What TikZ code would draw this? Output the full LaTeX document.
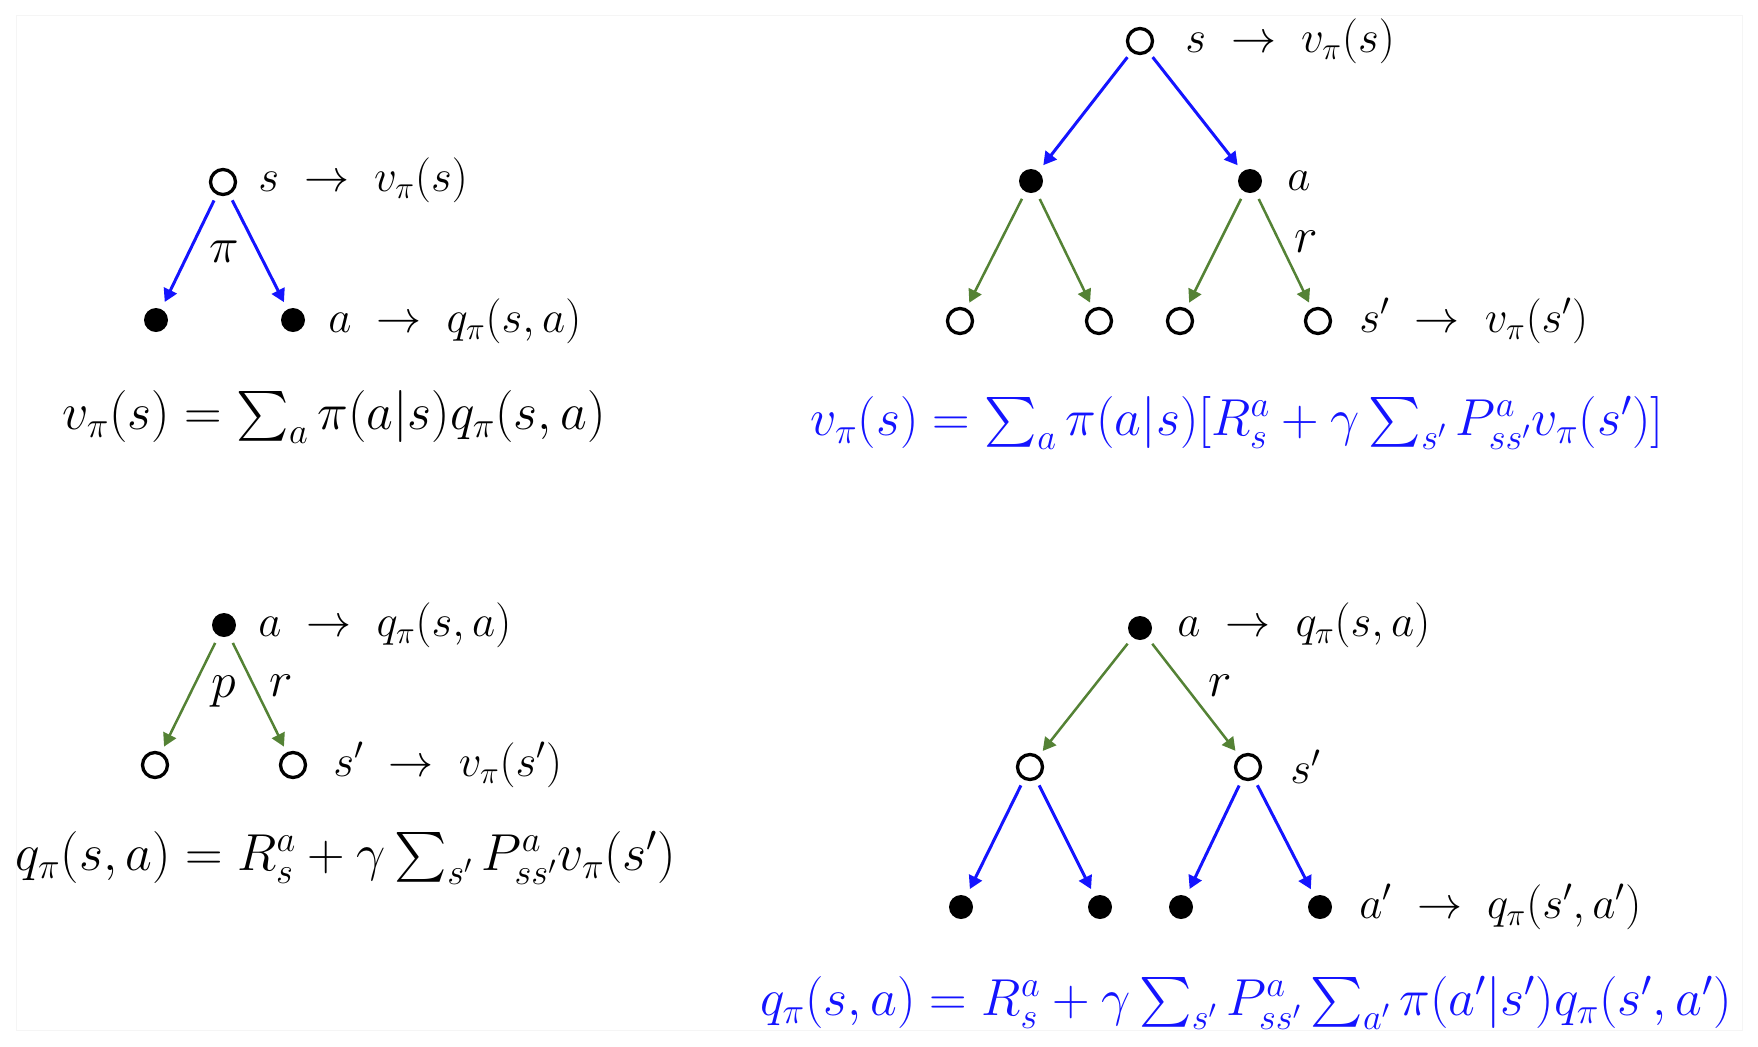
\RequirePackage{fix-cm}
\documentclass[tikz,border=0pt]{standalone}
\usepackage{exscale}
\usetikzlibrary{arrows.meta}
\definecolor{arrblue}{RGB}{20,20,255}
\definecolor{arrgreen}{RGB}{84,130,53}
\definecolor{eqblue}{RGB}{20,20,255}
\begin{document}
\begin{tikzpicture}[x=0.5pt,y=-0.5pt,
  opn/.style={circle,draw,line width=1.65pt,minimum size=12.5pt,inner sep=0pt,outer sep=4pt,fill=white},
  fld/.style={circle,fill=black,minimum size=12pt,inner sep=0pt,outer sep=4pt},
  lbl/.style={inner sep=0pt,anchor=west,font=\fontsize{22.5}{26}\selectfont},
  sym/.style={inner sep=0pt,anchor=center,font=\fontsize{25}{29}\selectfont},
  eq/.style={inner sep=0pt,font=\fontsize{26}{30}\selectfont},
  beq/.style={eq,text=eqblue},
  barr/.style={draw=arrblue,line width=1.5pt,-{Triangle[length=6.5pt,width=7pt]}},
  garr/.style={draw=arrgreen,line width=1.25pt,-{Triangle[length=6.5pt,width=7pt]}}]
\useasboundingbox (0,0) rectangle (1758,1046);
\draw[gray!8,line width=0.5pt] (16,15) rectangle (1742,1030);
\begin{scope}
\clip (16,15) rectangle (1742,1030);
% ---------- Panel 1 ----------
\node[opn] (p1s) at (223,182) {};
\node[fld] (p1a) at (156,320) {};
\node[fld] (p1b) at (293,320) {};
\draw[barr] (p1s) -- (p1a);
\draw[barr] (p1s) -- (p1b);
\node[lbl] (p1sl) at (258,180) {$s\;\rightarrow\;v_\pi(s)$};
\node[lbl] (p1al) at (328,321) {$a\;\rightarrow\;q_\pi(s,a)$};
\node[sym] (p1pi) at (224,252) {$\pi$};
\node[eq] (p1eq) at (334,417) {$v_\pi(s) = \sum_a \pi(a|s)q_\pi(s,a)$};
% ---------- Panel 2 ----------
\node[opn] (p2s) at (1140,41) {};
\node[fld] (p2m1) at (1031,181) {};
\node[fld] (p2m2) at (1250,181) {};
\node[opn] (p2b1) at (960,321) {};
\node[opn] (p2b2) at (1099,321) {};
\node[opn] (p2b3) at (1180,321) {};
\node[opn] (p2b4) at (1318,321) {};
\draw[barr] (p2s) -- (p2m1);
\draw[barr] (p2s) -- (p2m2);
\draw[garr] (p2m1) -- (p2b1);
\draw[garr] (p2m1) -- (p2b2);
\draw[garr] (p2m2) -- (p2b3);
\draw[garr] (p2m2) -- (p2b4);
\node[lbl] (p2sl) at (1185,41) {$s\;\rightarrow\;v_\pi(s)$};
\node[lbl] (p2al) at (1287,181) {$a$};
\node[sym] (p2r) at (1306,242) {$r$};
\node[lbl] (p2bl) at (1359,321) {$s'\;\rightarrow\;v_\pi(s')$};
\node[beq] (p2eq) at (1237,423) {$v_\pi(s) = \sum_a \pi(a|s)[R_s^a + \gamma\sum_{s'} P_{ss'}^a v_\pi(s')]$};
% ---------- Panel 3 ----------
\node[fld] (p3a) at (224,625) {};
\node[opn] (p3c1) at (155,765) {};
\node[opn] (p3c2) at (293,765) {};
\draw[garr] (p3a) -- (p3c1);
\draw[garr] (p3a) -- (p3c2);
\node[lbl] (p3al) at (258,625) {$a\;\rightarrow\;q_\pi(s,a)$};
\node[sym] (p3p) at (224,692) {$p$};
\node[sym] (p3r) at (281,686) {$r$};
\node[lbl] (p3sl) at (333,765) {$s'\;\rightarrow\;v_\pi(s')$};
\node[eq] (p3eq) at (346,858) {$q_\pi(s,a) = R_s^a + \gamma\sum_{s'} P_{ss'}^a v_\pi(s')$};
% ---------- Panel 4 ----------
\node[fld] (p4a) at (1140,628) {};
\node[opn] (p4m1) at (1030,767) {};
\node[opn] (p4m2) at (1248,767) {};
\node[fld] (p4b1) at (961,907) {};
\node[fld] (p4b2) at (1100,907) {};
\node[fld] (p4b3) at (1181,907) {};
\node[fld] (p4b4) at (1320,907) {};
\draw[garr] (p4a) -- (p4m1);
\draw[garr] (p4a) -- (p4m2);
\draw[barr] (p4m1) -- (p4b1);
\draw[barr] (p4m1) -- (p4b2);
\draw[barr] (p4m2) -- (p4b3);
\draw[barr] (p4m2) -- (p4b4);
\node[lbl] (p4al) at (1177,625) {$a\;\rightarrow\;q_\pi(s,a)$};
\node[sym] (p4r) at (1220,686) {$r$};
\node[lbl] (p4sl) at (1290,767) {$s'$};
\node[lbl] (p4bl) at (1359,907) {$a'\;\rightarrow\;q_\pi(s',a')$};
\node[beq] (p4eq) at (1246,1003) {$q_\pi(s,a) = R_s^a + \gamma\sum_{s'} P_{ss'}^a \sum_{a'} \pi(a'|s')q_\pi(s',a')$};
\end{scope}
\end{tikzpicture}
\end{document}
